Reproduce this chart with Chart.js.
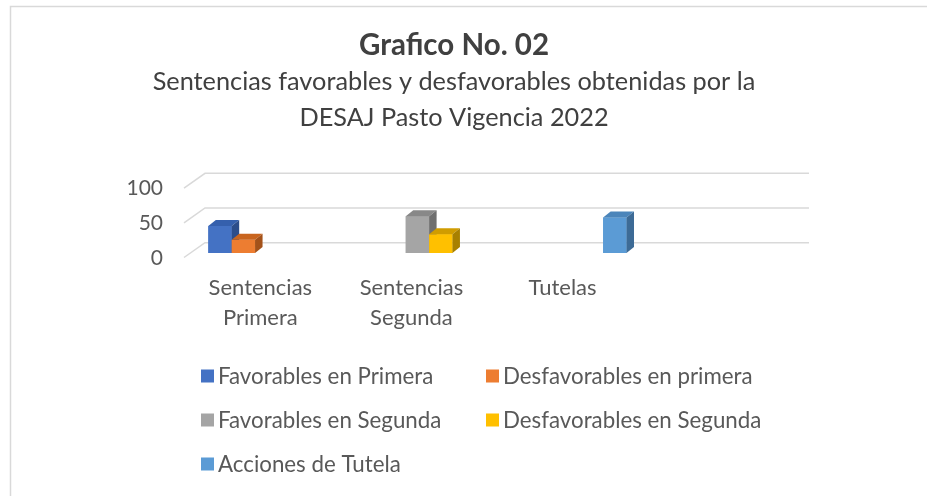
<!DOCTYPE html>
<html>
<head>
<meta charset="utf-8">
<script src="https://cdn.jsdelivr.net/npm/chart.js@4.4.1/dist/chart.umd.min.js"></script>
<style>
  html, body { margin: 0; padding: 0; background: #fff; }
  #wrap { width: 927px; height: 496px; }
</style>
</head>
<body>
<div id="wrap"><canvas id="grafico" width="927" height="496"></canvas></div>
<script>
// datos
var categories = ['Sentencias Primera', 'Sentencias Segunda', 'Tutelas'];
var seriesNames = ['Favorables en Primera', 'Desfavorables en primera', 'Favorables en Segunda', 'Desfavorables en Segunda', 'Acciones de Tutela'];
var favPrimera = [39, null, null];
var desPrimera = [19, null, null];
var favSegunda = [null, 53, null];
var desSegunda = [null, 27, null];
var accTutela = [null, null, 51];
var yTicks = [0, 50, 100];

var seriesValues = [favPrimera, desPrimera, favSegunda, desSegunda, accTutela];

// colores estilo Excel (frente / tapa / lado)
var frontColors = ['#4472C4', '#ED7D31', '#A5A5A5', '#FFC000', '#5B9BD5'];
var topColors = ['#3560ad', '#c9651f', '#888888', '#d09c00', '#4b85ba'];
var sideColors = ['#2c4d8a', '#a4521a', '#6f6f6f', '#a88000', '#3d6b96'];
var stackSlots = ['a', 'b', 'a', 'b', 'a'];

var DX = 7.5, DY = -6;          // profundidad de las barras
var WALL_X = 21, WALL_Y = -10.3, FRONT_Y = 4.5;

var tickLines = categories.map(function (c) {
    return c.split(' ');
});

var datasets = seriesNames.map(function (name, k) {
    return {
        label: name,
        data: seriesValues[k].map(function (v, i) { return { x: i, y: v }; }),
        backgroundColor: frontColors[k],
        topColor: topColors[k],
        sideColor: sideColors[k],
        stack: stackSlots[k],
        xAxisID: 'x',
        yAxisID: 'y',
        borderWidth: 0,
        barPercentage: 1,
        categoryPercentage: 0.2366
    };
});

var marco = {
    id: 'marco',
    beforeDraw: function (chart) {
        var ctx = chart.ctx;
        ctx.save();
        ctx.fillStyle = '#fff';
        ctx.fillRect(0, 0, chart.width, chart.height);
        ctx.strokeStyle = '#d9d9d9';
        ctx.lineWidth = 1.5;
        ctx.beginPath();
        ctx.moveTo(10.5, chart.height);
        ctx.lineTo(10.5, 6.5);
        ctx.lineTo(chart.width, 6.5);
        ctx.stroke();
        ctx.restore();
    }
};

var paredes = {
    id: 'paredes',
    beforeDatasetsDraw: function (chart) {
        var ctx = chart.ctx, area = chart.chartArea, ys = chart.scales.y;
        ctx.save();
        ctx.strokeStyle = '#d9d9d9';
        ctx.lineWidth = 1.5;
        ys.ticks.forEach(function (t) {
            var py = ys.getPixelForValue(t.value);
            ctx.beginPath();
            ctx.moveTo(area.left, py + FRONT_Y);
            ctx.lineTo(area.left + WALL_X, py + WALL_Y);
            ctx.lineTo(area.right, py + WALL_Y);
            ctx.stroke();
        });
        ctx.restore();
    }
};

var barras3d = {
    id: 'barras3d',
    afterDatasetsDraw: function (chart) {
        var ctx = chart.ctx;
        var list = [];
        chart.data.datasets.forEach(function (ds, di) {
            chart.getDatasetMeta(di).data.forEach(function (bar, i) {
                if (ds.data[i].y === null) return;
                list.push({ bar: bar, ds: ds });
            });
        });
        list.sort(function (a, b) { return a.bar.x - b.bar.x; });
        list.forEach(function (it) {
            var p = it.bar.getProps(['x', 'y', 'base', 'width'], true);
            var l = p.x - p.width / 2, r = p.x + p.width / 2;
            ctx.save();
            ctx.fillStyle = it.ds.backgroundColor;
            ctx.fillRect(l, p.y, p.width, p.base - p.y);
            ctx.fillStyle = it.ds.topColor;
            ctx.beginPath();
            ctx.moveTo(l, p.y);
            ctx.lineTo(l + DX, p.y + DY);
            ctx.lineTo(r + DX, p.y + DY);
            ctx.lineTo(r, p.y);
            ctx.closePath();
            ctx.fill();
            ctx.fillStyle = it.ds.sideColor;
            ctx.beginPath();
            ctx.moveTo(r, p.y);
            ctx.lineTo(r + DX, p.y + DY);
            ctx.lineTo(r + DX, p.base + DY);
            ctx.lineTo(r, p.base);
            ctx.closePath();
            ctx.fill();
            ctx.restore();
        });
    }
};

// leyenda en dos columnas como en Excel
var leyenda = {
    id: 'leyenda',
    afterDraw: function (chart, args, opts) {
        var ctx = chart.ctx;
        ctx.save();
        ctx.font = opts.size + 'px Lato';
        ctx.textBaseline = 'middle';
        ctx.textAlign = 'left';
        chart.data.datasets.forEach(function (ds, k) {
            var x = opts.cols[k % 2], y = opts.rows[Math.floor(k / 2)];
            ctx.fillStyle = ds.backgroundColor;
            ctx.fillRect(x, y - opts.box / 2, opts.box, opts.box);
            ctx.fillStyle = '#595959';
            ctx.fillText(ds.label, x + opts.box + opts.gap, y + 1);
        });
        ctx.restore();
    }
};

Chart.defaults.font.family = 'Lato';

var ctx = document.getElementById('grafico').getContext('2d');
var grafico = new Chart(ctx, {
    type: 'bar',
    data: { datasets: datasets },
    plugins: [marco, paredes, barras3d, leyenda],
    options: {
        responsive: false,
        animation: false,
        layout: { padding: { top: 15, left: 99, right: 118, bottom: 163 } },
        scales: {
            x: {
                type: 'linear',
                display: false,
                offset: false,
                min: -0.2416,
                max: 2.9245,
                afterBuildTicks: function (axis) {
                    axis.ticks = categories.map(function (c, i) { return { value: i }; });
                }
            },
            xl: {
                type: 'linear',
                axis: 'x',
                position: 'bottom',
                offset: false,
                min: -0.505,
                max: 3.631,
                grid: { display: false, drawTicks: false },
                border: { display: false },
                afterBuildTicks: function (axis) {
                    axis.ticks = categories.map(function (c, i) { return { value: i }; });
                },
                afterFit: function (axis) { axis.height = 80; },
                ticks: {
                    autoSkip: false,
                    maxRotation: 0,
                    padding: 20,
                    color: '#595959',
                    font: { size: 22, lineHeight: 30 / 22 },
                    callback: function (v) { return tickLines[v]; }
                }
            },
            y: {
                min: 0,
                max: 100,
                stacked: false,
                grid: { display: false, drawTicks: false },
                border: { display: false },
                afterBuildTicks: function (axis) {
                    axis.ticks = yTicks.map(function (v) { return { value: v }; });
                },
                afterFit: function (axis) { axis.width = 85; },
                ticks: {
                    padding: 21,
                    labelOffset: 5,
                    color: '#595959',
                    font: { size: 21 }
                }
            }
        },
        plugins: {
            legend: { display: false },
            tooltip: { enabled: false },
            title: {
                display: true,
                text: 'Grafico No. 02',
                color: '#404040',
                font: { size: 29.5, weight: 'bold', lineHeight: 30 / 29.5 },
                padding: { top: 15, bottom: 0 }
            },
            subtitle: {
                display: true,
                text: ['Sentencias favorables y desfavorables obtenidas por la', 'DESAJ Pasto Vigencia 2022'],
                color: '#404040',
                font: { size: 25.3, lineHeight: 36 / 25.3 },
                padding: { top: 4, bottom: 47.6 }
            },
            leyenda: {
                cols: [201, 486],
                rows: [376, 420, 464],
                box: 13,
                gap: 4,
                size: 22.3
            }
        }
    }
});
</script>
</body>
</html>
